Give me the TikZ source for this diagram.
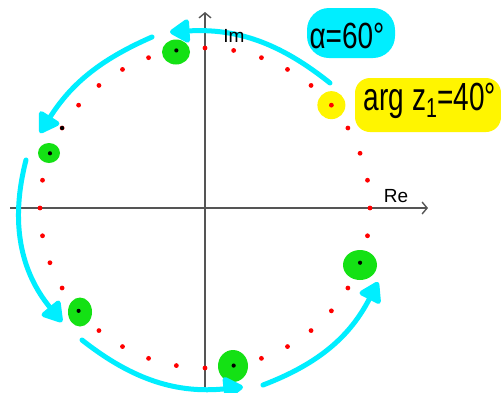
\documentclass[tikz,border=0pt]{standalone}
\usepackage{fontspec}
\setmainfont{Liberation Sans}
\usetikzlibrary{arrows.meta,shapes.geometric}
\definecolor{aqua}{RGB}{0,238,255}
\definecolor{grn}{RGB}{20,225,20}
\definecolor{ylw}{RGB}{255,245,0}
\definecolor{axisgray}{RGB}{85,85,85}
\begin{document}
\begin{tikzpicture}[x=1pt,y=-1pt,
 axis/.style={draw=axisgray,line width=1.4pt,-{Straight Barb[length=5pt,width=12pt]}},
 reddot/.style={circle,fill=red,inner sep=0pt,minimum size=4.8pt},
 blackdot/.style={circle,fill=black,inner sep=0pt,minimum size=4.2pt},
 greenblob/.style={ellipse,fill=grn,inner sep=0pt},
 turn/.style={draw=aqua,line width=5pt,line cap=round,-{Triangle[length=22pt,width=26pt,round]}},
 axlbl/.style={inner sep=0pt,font=\fontsize{19}{19}\selectfont},
 hand/.style={inner sep=0pt,font=\fontsize{28}{28}\selectfont}
]
\useasboundingbox (0,0) rectangle (501,392);
\fill[white] (0,0) rectangle (501,392);
% axes
\coordinate (xs) at (10,208);
\coordinate (xe) at (428,208);
\coordinate (ys) at (205,392);
\coordinate (ye) at (205,12);
\draw[axis] (xs) -- (xe);
\draw[axis] (ys) -- (ye);
% red dots
\foreach \a in {0,10,...,350}
  \node[reddot] (r\a) at ({205+165*cos(\a)},{208-160*sin(\a)}) {};
% yellow dot
\node[circle,fill=ylw,minimum size=28pt,inner sep=0pt] (y40) at (r40) {};
\node[reddot] (z1) at (r40) {};
% green blobs
\node[greenblob,minimum width=28pt,minimum height=25pt] (g1) at (176,52) {};
\node[greenblob,minimum width=22pt,minimum height=20pt] (g2) at (49,153) {};
\node[greenblob,minimum width=24pt,minimum height=29pt] (g3) at (80,312) {};
\node[greenblob,minimum width=30pt,minimum height=32pt] (g4) at (233,366) {};
\node[greenblob,minimum width=34pt,minimum height=30pt] (g5) at (360,265) {};
\foreach \a in {100,160,220,280,340,150}
  \node[blackdot] (b\a) at (r\a) {};
% cyan turning arrows
\coordinate (a1s) at (330,83);  \coordinate (a1e) at (170,32);
\coordinate (a2s) at (152,37);  \coordinate (a2e) at (40,133);
\coordinate (a3s) at (26,160);  \coordinate (a3e) at (62,322);
\coordinate (a4s) at (82,340);  \coordinate (a4e) at (243,387);
\coordinate (a5s) at (263,385); \coordinate (a5e) at (378,282);
\draw[turn] (a1s) to[bend right=21] (a1e);
\draw[turn] (a2s) to[bend right=17] (a2e);
\draw[turn] (a3s) to[bend right=27] (a3e);
\draw[turn] (a4s) to[bend right=22] (a4e);
\draw[turn] (a5s) to[bend right=21] (a5e);
% labels
\node[fill=aqua,rounded corners=22pt,minimum width=88pt,minimum height=50pt] (cb) at (351,33) {};
\node[hand] (alpha) at (347,36) {\scalebox{1}[1.3]{α=60°}};
\node[fill=ylw,rounded corners=15pt,minimum width=146pt,minimum height=54pt] (yb) at (428,105) {};
\node[hand] (argz) at (430,101) {\scalebox{1}[1.4]{arg z\textsubscript{1}=40°}};
\node[axlbl] (im) at (234,36) {Im};
\node[axlbl] (re) at (396,196) {Re};
\end{tikzpicture}
\end{document}
